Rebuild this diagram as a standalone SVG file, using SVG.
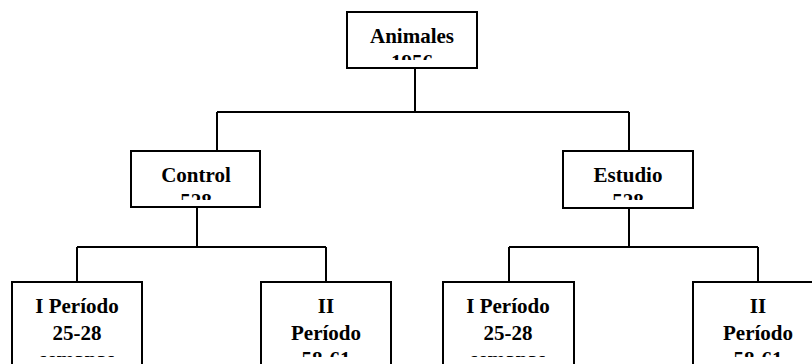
<svg xmlns="http://www.w3.org/2000/svg" width="812" height="364" viewBox="0 0 812 364">
<style>
.box{fill:#fff;stroke:#000;stroke-width:2}
.con{fill:none;stroke:#000;stroke-width:2}
text{font-family:"Liberation Serif","Times New Roman",serif;font-weight:bold;font-size:21px;text-anchor:middle;fill:#000}
</style>
<defs>
<clipPath id="c0"><rect x="347" y="12" width="130" height="48"/></clipPath>
<clipPath id="c1"><rect x="131" y="151" width="129" height="49"/></clipPath>
<clipPath id="c2"><rect x="563" y="151" width="130" height="49"/></clipPath>
<clipPath id="c3"><rect x="0" y="282" width="812" height="75"/></clipPath>
</defs>
<g id="connectors">
<path class="con" d="M415 68V112M217 112H629M217 112V151M629 112V151"/>
<path class="con" d="M197 207V247M77 247H326M77 247V282M326 247V282"/>
<path class="con" d="M629 208V247M509 247H758M509 247V282M758 247V282"/>
</g>
<g id="animales">
<rect class="box" x="347" y="12" width="130" height="56"/>
<g clip-path="url(#c0)"><text x="412" y="43">Animales</text><text x="412" y="69">1956</text></g>
</g>
<g id="control">
<rect class="box" x="131" y="151" width="129" height="56"/>
<g clip-path="url(#c1)"><text x="196" y="182">Control</text><text x="196" y="208">528</text></g>
</g>
<g id="estudio">
<rect class="box" x="563" y="151" width="130" height="57"/>
<g clip-path="url(#c2)"><text x="628" y="182">Estudio</text><text x="628" y="208">528</text></g>
</g>
<g id="control-p1">
<rect class="box" x="12" y="282" width="130" height="90"/>
<g clip-path="url(#c3)"><text x="77" y="313">I Período</text><text x="77" y="339.5">25-28</text><text x="77" y="366">semanas</text></g>
</g>
<g id="control-p2">
<rect class="box" x="261" y="282" width="130" height="90"/>
<g clip-path="url(#c3)"><text x="326" y="313">II</text><text x="326" y="339.5">Período</text><text x="326" y="366">58-61</text></g>
</g>
<g id="estudio-p1">
<rect class="box" x="443" y="282" width="131" height="90"/>
<g clip-path="url(#c3)"><text x="508" y="313">I Período</text><text x="508" y="339.5">25-28</text><text x="508" y="366">semanas</text></g>
</g>
<g id="estudio-p2">
<rect class="box" x="693" y="282" width="130" height="90"/>
<g clip-path="url(#c3)"><text x="758" y="313">II</text><text x="758" y="339.5">Período</text><text x="758" y="366">58-61</text></g>
</g>
</svg>
